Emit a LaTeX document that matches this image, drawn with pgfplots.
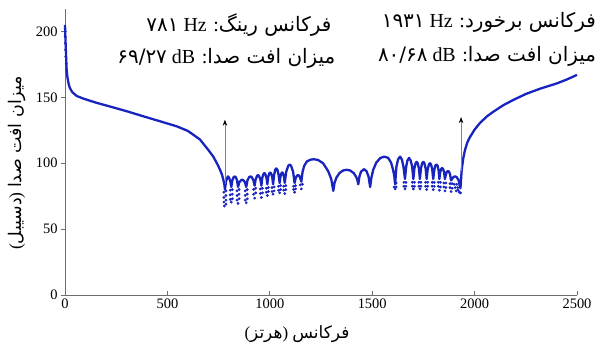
\documentclass[border=0pt]{standalone}
\usepackage{fontspec}
\setmainfont{Liberation Serif}
\newfontfamily\arabicfont[Script=Arabic]{DejaVu Sans}
\usepackage{pgfplots}
\pgfplotsset{compat=1.18}
\usetikzlibrary{arrows.meta}
\TeXXeTstate=1
\definecolor{curve}{RGB}{25,35,190}
\definecolor{axgray}{RGB}{110,110,110}
\begin{document}
\begin{tikzpicture}
\begin{axis}[
 at={(0,0)}, anchor=south west,
 scale only axis, width=512bp, height=286bp,
 xmin=0, xmax=2500, ymin=0, ymax=217,
 axis lines*=left,
 axis line style={axgray, line width=0.9bp},
 xtick={0,500,1000,1500,2000,2500}, ytick={0,50,100,150,200},
 xtick align=inside, ytick align=outside,
 major tick length=4bp,
 tick style={axgray, line width=0.9bp},
 tick label style={font=\fontsize{14.5}{16}\selectfont, black},
 /pgf/number format/assume math mode=true,
 /pgf/number format/1000 sep={},
 scaled ticks=false,
 clip=false,
]
% dotted tails below the dips
\addplot[only marks, mark=*, mark size=1.2bp, color=curve, mark options={draw=curve, fill=curve}] coordinates {
(776,78) (776,74) (776,70.5) (778,67.5) (786,79) (786,75.5) (786,72) (786,69)
(807,79.5) (807,76) (807,72.5) (817,80) (817,76.5) (817,73) (812,70.5)
(840,79) (840,75.5) (840,72) (850,80) (850,76.5) (850,73) (845,69.5)
(880,79) (880,75.5) (880,72) (890,80) (890,76.5) (890,73) (885,70)
(921,80) (921,76.5) (931,81) (931,77.5) (926,73.5)
(954,80.5) (954,77) (964,81) (964,77.5) (959,74)
(983,81) (983,78) (993,81.5) (993,78.5) (988,75.5)
(1011,81.5) (1011,78.5) (1021,82) (1021,79) (1016,76.5)
(1043,82.5) (1043,79.5) (1053,83) (1053,80) (1048,77.5)
(1068,82.5) (1068,79.5) (1078,83) (1078,80) (1073,77)
(1116,82.5) (1116,80) (1126,83) (1126,80.5) (1121,78)
(1149,83.5) (1159,84) (1154,80.5)
(1607,82) (1617,85) (1617,82) (1612,80.5)
(1655,85.5) (1655,82.5) (1665,85.5) (1665,82.5) (1660,80.5)
(1696,85.5) (1696,82.5) (1706,85.5) (1706,82.5) (1701,80.5)
(1728,85.5) (1728,82.5) (1738,85.5) (1738,82.5) (1733,80.5)
(1761,85.5) (1761,82.5) (1771,85.5) (1771,82.5) (1766,80)
(1793,85.5) (1793,82.5) (1803,85.5) (1803,82.5) (1798,80)
(1823,85.5) (1823,82.5) (1833,85.5) (1833,82) (1828,79.5)
(1850,85) (1850,82) (1860,85) (1860,81.5) (1855,79)
(1880,84.5) (1880,81.5) (1890,84.5) (1890,81) (1885,78.5)
(1900,84) (1905,81.5) (1912,84) (1918,81.5) (1910,79) (1920,79.5) (1925,78) (1931,77.5) (1928,83)
(1,200) (1,196) (2,191) (3,186) (4,181) (6,176)
};
% main curve
\addplot[color=curve, line width=2.3bp, line join=round] coordinates {
(0,205) (2,195) (5,182) (8,171) (12,165) (18,160) (24,157) (35,154) (57,151) (90,149)
(150,146) (220,143) (300,139.5) (382,135.6) (460,132) (545,128) (600,124.5) (659,118)
(700,110) (724,105) (745,99) (757,95) (766,91.5) (773,87.5) (778,84) (781,80)
(786,86) (792,89) (796,90) (801,89) (807,86.5) (812,82)
(817,87) (823,89.3) (828,90) (834,89.3) (840,87) (845,82)
(851,85.5) (859,87) (865,87.5) (871,87) (879,85.5) (885,82)
(891,87) (899,89.4) (906,90) (912,89.4) (920,87) (926,83)
(931,87.8) (938,90.4) (942,91) (947,90.4) (954,87.8) (959,83)
(963,88.8) (969,91.8) (973,92.5) (978,91.8) (984,88.8) (988,84)
(992,89.4) (998,92.4) (1002,93) (1006,92.4) (1012,89.4) (1016,84)
(1021,91.2) (1027,95.2) (1032,96) (1037,95.2) (1043,91.2) (1048,85)
(1052,89.8) (1057,92.4) (1060,93) (1064,92.4) (1069,89.8) (1073,85)
(1080,93.4) (1090,98) (1097,99) (1104,98) (1114,93.4) (1121,85)
(1126,88.6) (1133,90.6) (1138,91) (1143,90.6) (1149,88.6) (1154,86)
(1160,93.5) (1168,98) (1182,101.5) (1200,102.7) (1215,103) (1235,102.5) (1260,100) (1285,94) (1300,88) (1310,79)
(1316,85) (1325,89) (1340,92.5) (1358,94.5) (1375,95) (1392,94.5) (1410,92.5) (1422,89.5) (1428,87) (1432,84)
(1437,89.5) (1445,93.5) (1460,95.5) (1472,94) (1482,90) (1490,82)
(1496,89) (1505,95) (1520,100.5) (1540,104) (1560,105) (1578,104) (1592,100.5) (1602,95) (1608,90) (1612,84)
(1618,97) (1626,102.8) (1636,105) (1645,102.8) (1653,97) (1660,88)
(1666,97.5) (1672,102) (1680,104) (1688,102) (1695,97.5) (1701,88)
(1706,96) (1712,100) (1717,101) (1722,100) (1728,96) (1733,88)
(1738,96) (1744,100) (1750,101) (1755,100) (1761,96) (1766,88)
(1771,95.4) (1777,99.1) (1782,100) (1787,99.1) (1793,95.4) (1798,88)
(1803,94.8) (1808,98.2) (1814,99) (1819,98.2) (1824,94.8) (1828,88)
(1832,93.2) (1837,95.6) (1842,96.3) (1846,95.6) (1851,93.2) (1855,88)
(1860,91.6) (1865,93.6) (1870,94) (1875,93.6) (1880,91.6) (1885,87)
(1892,88.5) (1898,89.7) (1905,90) (1912,89.5) (1922,87) (1931,81)
(1934,88) (1937,95) (1945,104) (1953,110) (1965,116) (1978,120) (2000,125.5) (2026,130.5)
(2060,135.5) (2091,139) (2140,144) (2189,148) (2250,152.5) (2319,156.5) (2401,160.5) (2450,163.5) (2500,167)
};
% arrows
\addplot[color=gray, line width=0.8bp, -{Stealth[length=6bp,width=4.5bp,black]}] coordinates {(781,84) (781,133)};
\addplot[color=gray, line width=0.8bp, -{Stealth[length=6bp,width=4.5bp,black]}] coordinates {(1934,94) (1934,135)};
% texts
\node[anchor=base east, font=\fontsize{20}{23}\selectfont] at (rel axis cs:0.527,0.923) {\beginR{\arabicfont فرکانس رینگ}: Hz {\arabicfont ۷۸۱}\endR};
\node[anchor=base east, font=\fontsize{20}{23}\selectfont] at (rel axis cs:0.535,0.808) {\beginR{\arabicfont میزان افت صدا}: dB {\arabicfont ۶۹/۲۷}\endR};
\node[anchor=base east, font=\fontsize{20}{23}\selectfont] at (rel axis cs:1.044,0.934) {\beginR{\arabicfont فرکانس برخورد}: Hz {\arabicfont ۱۹۳۱}\endR};
\node[anchor=base east, font=\fontsize{20}{23}\selectfont] at (rel axis cs:1.044,0.815) {\beginR{\arabicfont میزان افت صدا}: dB {\arabicfont ۸۰/۶۸}\endR};
\node[anchor=center, font=\fontsize{17}{20}\selectfont] at (rel axis cs:0.453,-0.136) {\beginR{\arabicfont فرکانس} ){\arabicfont هرتز}(\endR};
\node[anchor=center, rotate=90, font=\fontsize{17.5}{20}\selectfont] at (rel axis cs:-0.094,0.462) {\beginR{\arabicfont میزان افت صدا} ){\arabicfont دسیبل}(\endR};
\end{axis}
\pgfresetboundingbox
\path (-65bp,-57bp) rectangle (530bp,295bp);
\end{tikzpicture}
\end{document}
